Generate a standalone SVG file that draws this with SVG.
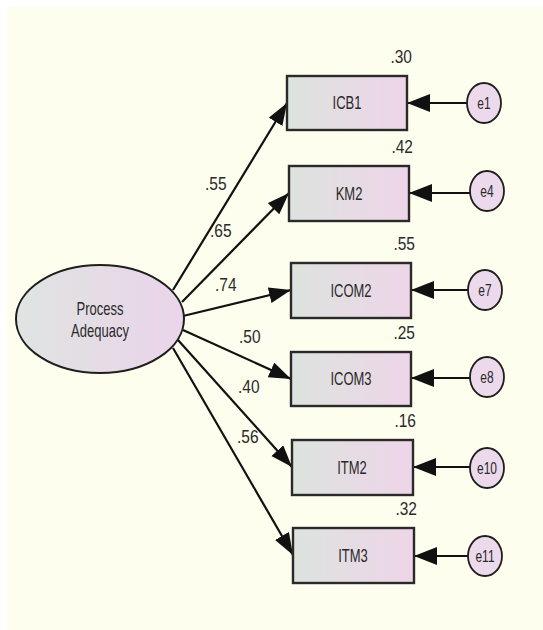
<svg xmlns="http://www.w3.org/2000/svg" width="543" height="630" viewBox="0 0 543 630">
  <defs>
    <linearGradient id="fillObs" x1="0" y1="0" x2="1" y2="0">
      <stop offset="0" stop-color="#dde3de"/>
      <stop offset="1" stop-color="#eed5e9"/>
    </linearGradient>
    <linearGradient id="fillLatent" x1="0" y1="0" x2="1" y2="0">
      <stop offset="0" stop-color="#dfe4e1"/>
      <stop offset="1" stop-color="#ebd4ea"/>
    </linearGradient>
    <marker id="head" markerUnits="userSpaceOnUse" markerWidth="24" markerHeight="18" refX="22" refY="8" orient="auto">
      <path d="M0,0 L22,8 L0,16 Z" fill="#111"/>
    </marker>
    <marker id="headErr" markerUnits="userSpaceOnUse" markerWidth="26" markerHeight="20" refX="23" refY="9" orient="auto">
      <path d="M0,0 L23,9 L0,18 Z" fill="#111"/>
    </marker>
    <style>
      .bg { fill: #fdfeee; }
      .obs { fill: url(#fillObs); stroke: #2a2a2a; stroke-width: 2.4; }
      .lat { fill: url(#fillLatent); stroke: #1e1e1e; stroke-width: 2; }
      .err { fill: #ecd9ec; stroke: #1e1e1e; stroke-width: 1.8; }
      .path { stroke: #111; stroke-width: 2.2; fill: none; marker-end: url(#head); }
      .epath { stroke: #111; stroke-width: 2.2; fill: none; marker-end: url(#headErr); }
      text { font-family: "Liberation Sans", Arial, sans-serif; fill: #2a2a2a; }
      .name { font-size: 13px; text-anchor: middle; }
      .ename { font-size: 12px; text-anchor: middle; }
      .coef { font-size: 15.5px; }
      .r2 { font-size: 15.5px; text-anchor: end; }
    </style>
  </defs>

  <rect class="bg" x="7" y="7" width="536" height="623"/>

  <!-- regression paths and error paths -->
  <g id="connectors">
    <line class="path" x1="173" y1="290" x2="287" y2="103"/>
    <line class="path" x1="182" y1="302" x2="289" y2="193"/>
    <line class="path" x1="183" y1="316" x2="291" y2="290"/>
    <line class="path" x1="183" y1="330" x2="291" y2="379"/>
    <line class="path" x1="178" y1="340" x2="292" y2="467"/>
    <line class="path" x1="173" y1="348" x2="293" y2="555"/>

    <line class="epath" x1="467" y1="103" x2="407" y2="103"/>
    <line class="epath" x1="470" y1="193" x2="409" y2="193"/>
    <line class="epath" x1="468" y1="290" x2="411" y2="290"/>
    <line class="epath" x1="470" y1="378" x2="411" y2="378"/>
    <line class="epath" x1="470" y1="467" x2="413" y2="467"/>
    <line class="epath" x1="468" y1="556" x2="414" y2="556"/>

    <text class="coef" transform="translate(205,190) scale(1,1.2)">.55</text>
    <text class="coef" transform="translate(210,237) scale(1,1.2)">.65</text>
    <text class="coef" transform="translate(215,291) scale(1,1.2)">.74</text>
    <text class="coef" transform="translate(239,343) scale(1,1.2)">.50</text>
    <text class="coef" transform="translate(238,393) scale(1,1.2)">.40</text>
    <text class="coef" transform="translate(237,443) scale(1,1.2)">.56</text>
  </g>

  <!-- latent factor -->
  <g id="process-adequacy">
    <ellipse class="lat" cx="100" cy="319" rx="84" ry="54"/>
    <text class="name" transform="translate(100,315) scale(1,1.35)">Process</text>
    <text class="name" transform="translate(100,337) scale(1,1.35)">Adequacy</text>
  </g>

  <!-- observed indicators -->
  <g id="ICB1">
    <rect class="obs" x="287" y="76" width="120" height="54"/>
    <text class="name" transform="translate(347,109) scale(1,1.35)">ICB1</text>
    <text class="r2" transform="translate(412,63) scale(1,1.2)">.30</text>
  </g>
  <g id="KM2">
    <rect class="obs" x="289" y="166" width="120" height="55"/>
    <text class="name" transform="translate(349,200) scale(1,1.35)">KM2</text>
    <text class="r2" transform="translate(413,153) scale(1,1.2)">.42</text>
  </g>
  <g id="ICOM2">
    <rect class="obs" x="291" y="263" width="120" height="55"/>
    <text class="name" transform="translate(351,297) scale(1,1.35)">ICOM2</text>
    <text class="r2" transform="translate(415,250) scale(1,1.2)">.55</text>
  </g>
  <g id="ICOM3">
    <rect class="obs" x="291" y="352" width="120" height="54"/>
    <text class="name" transform="translate(351,385) scale(1,1.35)">ICOM3</text>
    <text class="r2" transform="translate(415,339) scale(1,1.2)">.25</text>
  </g>
  <g id="ITM2">
    <rect class="obs" x="292" y="440" width="121" height="55"/>
    <text class="name" transform="translate(352,474) scale(1,1.35)">ITM2</text>
    <text class="r2" transform="translate(416,427) scale(1,1.2)">.16</text>
  </g>
  <g id="ITM3">
    <rect class="obs" x="293" y="528" width="121" height="55"/>
    <text class="name" transform="translate(353,562) scale(1,1.35)">ITM3</text>
    <text class="r2" transform="translate(417,515) scale(1,1.2)">.32</text>
  </g>

  <!-- error terms -->
  <g id="e1">
    <ellipse class="err" cx="484" cy="103" rx="17" ry="20"/>
    <text class="ename" transform="translate(484,109) scale(1,1.35)">e1</text>
  </g>
  <g id="e4">
    <ellipse class="err" cx="487" cy="191" rx="17" ry="20"/>
    <text class="ename" transform="translate(487,197) scale(1,1.35)">e4</text>
  </g>
  <g id="e7">
    <ellipse class="err" cx="485" cy="290" rx="17" ry="20"/>
    <text class="ename" transform="translate(485,296) scale(1,1.35)">e7</text>
  </g>
  <g id="e8">
    <ellipse class="err" cx="487" cy="377" rx="17" ry="20"/>
    <text class="ename" transform="translate(487,383) scale(1,1.35)">e8</text>
  </g>
  <g id="e10">
    <ellipse class="err" cx="487" cy="468" rx="17" ry="20"/>
    <text class="ename" transform="translate(487,474) scale(1,1.35)">e10</text>
  </g>
  <g id="e11">
    <ellipse class="err" cx="485" cy="556" rx="17" ry="20"/>
    <text class="ename" transform="translate(485,562) scale(1,1.35)">e11</text>
  </g>
</svg>
